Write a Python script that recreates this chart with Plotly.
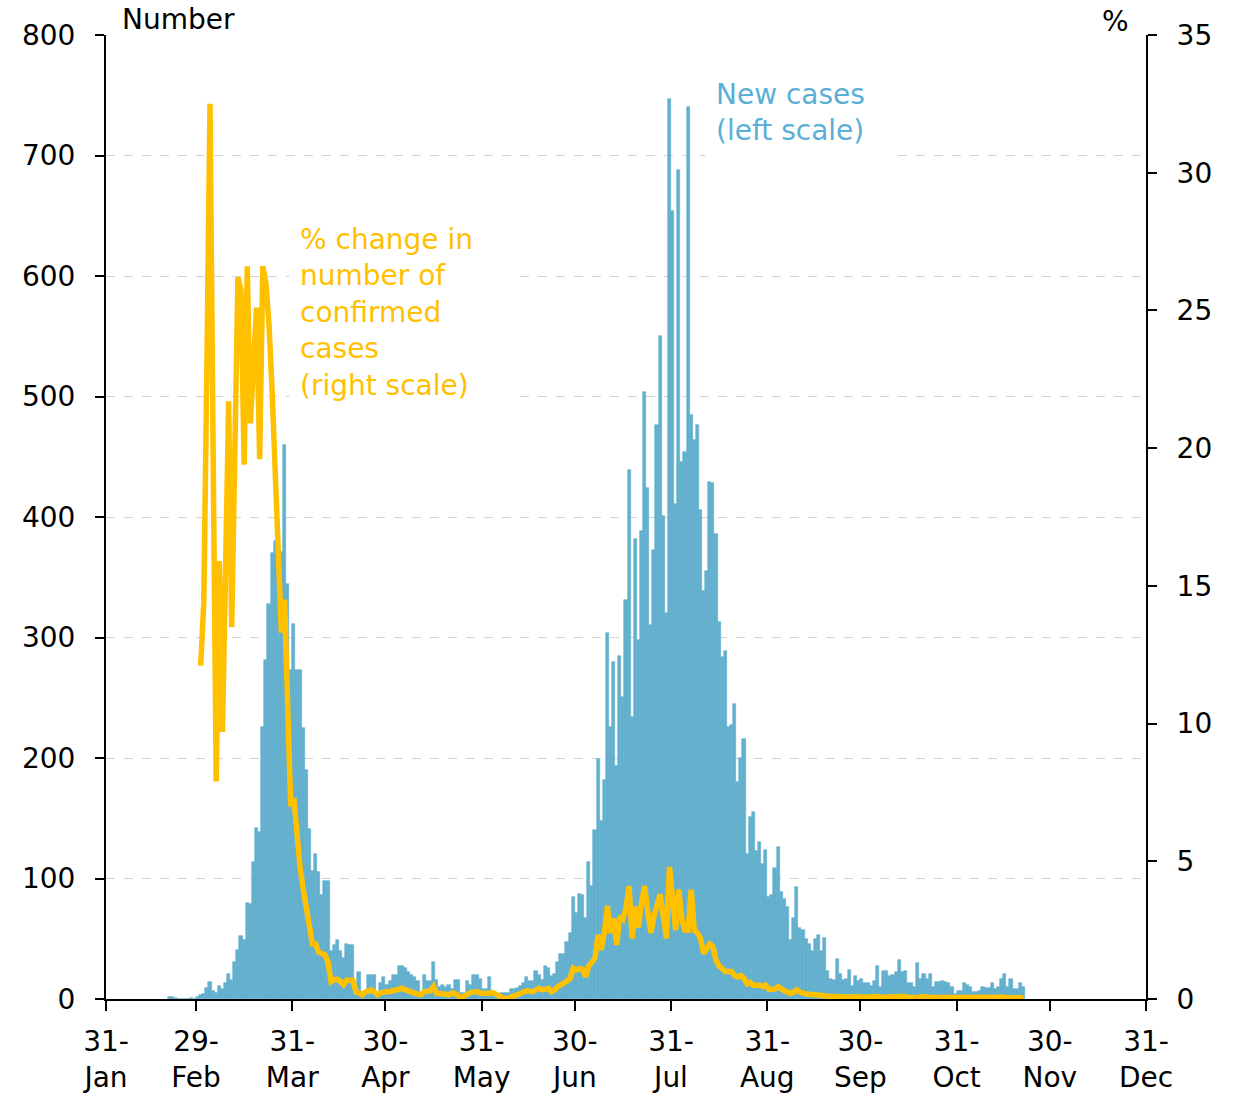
import pandas as pd
import plotly.graph_objects as go

# ---------------- data ----------------
bar_start = "2020-02-20"
new_cases = [
    # Feb 20 - Mar 2
    2, 2, 1, 0, 0, 0, 0, 1, 0, 2, 3, 4,
    # Mar 3 - Apr 8
    9, 14, 7, 5, 11, 8, 13, 21, 16, 31, 41, 52, 49, 80, 79, 114, 142, 139,
    226, 281, 328, 370, 380, 371, 371, 460, 344, 273, 311, 273, 273, 225,
    190, 141, 106, 120, 105,
    # Apr 9 - Apr 11
    86, 98, 98,
    # Apr 12 - Jun 5
    40, 45, 49, 40, 34, 46, 45, 45, 3, 22, 6, 6, 20, 20, 20, 6, 13, 18, 12,
    15, 20, 20, 27, 27, 26, 22, 20, 18, 15, 5, 20, 15, 15, 31, 16, 10, 12,
    10, 12, 8, 16, 16, 5, 5, 15, 12, 20, 20, 17, 8, 8, 18, 6, 3, 3,
    # Jun 6 - Jul 15
    5, 5, 5, 8, 8, 9, 11, 13, 18, 15, 15, 23, 20, 16, 27, 26, 19, 21, 31,
    37, 37, 47, 55, 85, 71, 87, 86, 67, 114, 94, 140, 199, 148, 182, 304,
    226, 280, 193, 285, 251,
    # Jul 16 - Aug 12
    331, 439, 234, 382, 298, 388, 504, 424, 310, 373, 476, 550, 401, 320,
    747, 654, 411, 688, 446, 454, 740, 485, 464, 476, 406, 339, 355, 429,
    # Aug 13 - Sep 6
    428, 386, 313, 284, 289, 226, 227, 245, 180, 200, 216, 120, 151, 155,
    123, 130, 112, 124, 85, 86, 109, 126, 89, 83, 76,
    # Sep 7 - Nov 22
    49, 67, 93, 59, 57, 50, 46, 40, 50, 53,
    40, 51, 23, 17, 16, 33, 21, 16, 17, 24,
    11, 19, 15, 17, 13, 13, 11, 15, 27, 10,
    23, 23, 19, 20, 22, 32, 22, 23, 13, 13,
    10, 30, 17, 21, 17, 21, 10, 14, 14, 15, 14,
    13, 10, 4, 7, 7, 13, 12, 10, 6, 6, 7,
    10, 9, 9, 13, 8, 10, 17, 21, 10, 17,
    8, 8, 13, 10,
]

line_start = "2020-03-01"
pct_change = [
    # Mar 1 - Apr 8
    12.1, 14.4, 23.0, 32.5, 20.0, 7.9, 15.9, 9.7, 15.5, 21.7,
    13.5, 20.0, 26.2, 25.7, 19.4, 26.6, 20.9, 23.0, 25.1, 19.6,
    26.6, 26.0, 24.5, 22.1, 19.0, 16.0, 13.3, 14.5, 11.0, 7.0,
    7.3, 6.0, 4.8, 4.0, 3.3, 2.7, 2.0, 2.0, 1.7,
    # Apr 9 - Jun 5
    1.65, 1.6, 1.35, 0.63, 0.7, 0.72, 0.63, 0.52, 0.68, 0.7, 0.68, 0.27,
    0.18, 0.15, 0.25, 0.3, 0.33, 0.25, 0.15, 0.22, 0.27, 0.27, 0.27, 0.3,
    0.33, 0.37, 0.39, 0.33, 0.28, 0.24, 0.2, 0.17, 0.15, 0.27, 0.28, 0.3,
    0.45, 0.2, 0.2, 0.2, 0.17, 0.15, 0.22, 0.2, 0.1, 0.02, 0.12, 0.2,
    0.24, 0.25, 0.27, 0.22, 0.2, 0.18, 0.2, 0.24, 0.18, 0.08,
    # Jun 6 - Jul 15
    0.02, 0.0, 0.03, 0.06, 0.1, 0.14, 0.2, 0.25, 0.3, 0.28,
    0.27, 0.33, 0.39, 0.33, 0.36, 0.39, 0.27, 0.33, 0.45, 0.51,
    0.57, 0.65, 0.75, 1.12, 1.05, 1.1, 1.08, 0.81, 1.2, 1.36,
    1.48, 2.33, 1.78, 2.39, 3.38, 2.39, 2.93, 1.96, 3.0, 2.9,
    # Jul 16 - Sep 7
    3.3, 4.1, 2.2, 3.35, 2.6, 3.5, 4.1, 3.2, 2.4, 3.0,
    3.45, 3.8, 3.0, 2.2, 4.8, 3.7, 2.5, 3.97, 2.9, 2.5,
    2.5, 3.97, 2.5, 2.4, 2.2, 1.65, 1.8, 2.0, 1.9, 1.4,
    1.2, 1.1, 1.0, 1.0, 1.0, 0.85, 0.8, 0.85, 0.75, 0.55,
    0.6, 0.5, 0.5, 0.5, 0.45, 0.5, 0.35, 0.35, 0.36, 0.45,
    0.35, 0.3, 0.25, 0.2,
    # Sep 8 - Nov 22
    0.25, 0.33, 0.25, 0.2, 0.18, 0.17, 0.17, 0.15, 0.14, 0.14,
    0.12, 0.1, 0.09, 0.09, 0.1, 0.08, 0.1, 0.09, 0.07, 0.08,
    0.09, 0.08, 0.06, 0.07, 0.08, 0.07, 0.06, 0.09, 0.07, 0.05,
    0.06, 0.08, 0.07, 0.06, 0.08, 0.1, 0.07, 0.06, 0.05, 0.05,
    0.04, 0.09, 0.06, 0.07, 0.06, 0.07, 0.04, 0.05, 0.05, 0.05,
    0.05, 0.04, 0.02, 0.03, 0.03, 0.05, 0.04, 0.04, 0.02, 0.03,
    0.04, 0.03, 0.03, 0.05, 0.03, 0.04, 0.06, 0.08, 0.04, 0.06,
    0.03, 0.03, 0.05, 0.04, 0.04,
]

tick_dates = ["2020-01-31", "2020-02-29", "2020-03-31", "2020-04-30",
              "2020-05-31", "2020-06-30", "2020-07-31", "2020-08-31",
              "2020-09-30", "2020-10-31", "2020-11-30", "2020-12-31"]
tick_labels = ["31-<br>Jan", "29-<br>Feb", "31-<br>Mar", "30-<br>Apr",
               "31-<br>May", "30-<br>Jun", "31-<br>Jul", "31-<br>Aug",
               "30-<br>Sep", "31-<br>Oct", "30-<br>Nov", "31-<br>Dec"]

bar_dates = pd.date_range(bar_start, periods=len(new_cases), freq="D")
line_dates = pd.date_range(line_start, periods=len(pct_change), freq="D")

# ---------------- style ----------------
BLUE = "#62AFCE"
BLUE_TXT = "#5BAFD6"
ORANGE = "#FFC000"
FONT = "DejaVu Sans"
W, H = 1249, 1098
L, R, T, B = 106, 1146, 35, 999


def px_x(px):
    return (px - L) / (R - L)


def px_y(py):
    return (B - py) / (B - T)


fig = go.Figure()
fig.add_trace(go.Bar(
    x=bar_dates, y=new_cases, marker=dict(color=BLUE, line=dict(width=0.6, color=BLUE)),
    xperiod=86400000, xperiodalignment="middle", name="New cases",
))
fig.add_trace(go.Scatter(
    x=line_dates, y=pct_change, yaxis="y2", mode="lines",
    line=dict(color=ORANGE, width=5.5), xperiod=86400000,
    xperiodalignment="middle", name="% change",
))

axis_common = dict(showline=True, linecolor="black", linewidth=2,
                   ticks="outside", tickcolor="black", tickwidth=2,
                   zeroline=False, automargin=False,
                   tickfont=dict(family=FONT, size=28, color="black"))

fig.update_layout(
    width=W, height=H,
    margin=dict(l=L, r=W - R, t=T, b=H - B, pad=0, autoexpand=False),
    paper_bgcolor="white", plot_bgcolor="white",
    showlegend=False, bargap=0,
    font=dict(family=FONT, size=28, color="black"),
    xaxis=dict(type="date", range=["2020-01-31", "2020-12-31"],
               tickvals=tick_dates, ticktext=tick_labels, ticklen=10,
               showgrid=False, ticklabelstandoff=6, **axis_common),
    yaxis=dict(range=[0, 800], tickvals=list(range(0, 801, 100)), ticklen=9,
               showgrid=True, gridcolor="#d4d4d4", griddash="dash", gridwidth=1,
               ticklabelstandoff=14, **axis_common),
    yaxis2=dict(range=[0, 35], tickvals=list(range(0, 36, 5)), overlaying="y",
                side="right", ticklen=9, showgrid=False, ticklabelstandoff=14,
                **axis_common),
)

ann_common = dict(xref="paper", yref="paper", showarrow=False, bgcolor="white",
                  align="left", yanchor="middle")
fig.add_annotation(text="Number", x=px_x(107), y=px_y(19), xanchor="left",
                   width=122, borderpad=14,
                   font=dict(family=FONT, size=28, color="black"), **ann_common)
fig.add_annotation(text="%", x=px_x(1117), y=px_y(21), xanchor="center",
                   width=30, borderpad=12,
                   font=dict(family=FONT, size=28, color="black"), **ann_common)
fig.add_annotation(text="New cases<br>(left scale)", x=px_x(705), y=px_y(112),
                   xanchor="left", width=170, borderpad=10,
                   font=dict(family=FONT, size=28, color=BLUE_TXT), **ann_common)
fig.add_annotation(text="% change in<br>number of<br>confirmed<br>cases<br>(right scale)",
                   x=px_x(289), y=px_y(312), xanchor="left", width=205, borderpad=10,
                   font=dict(family=FONT, size=28, color=ORANGE), **ann_common)

fig.write_html("out.html", config={"displayModeBar": False},
               post_script="document.body.style.margin='0';")
